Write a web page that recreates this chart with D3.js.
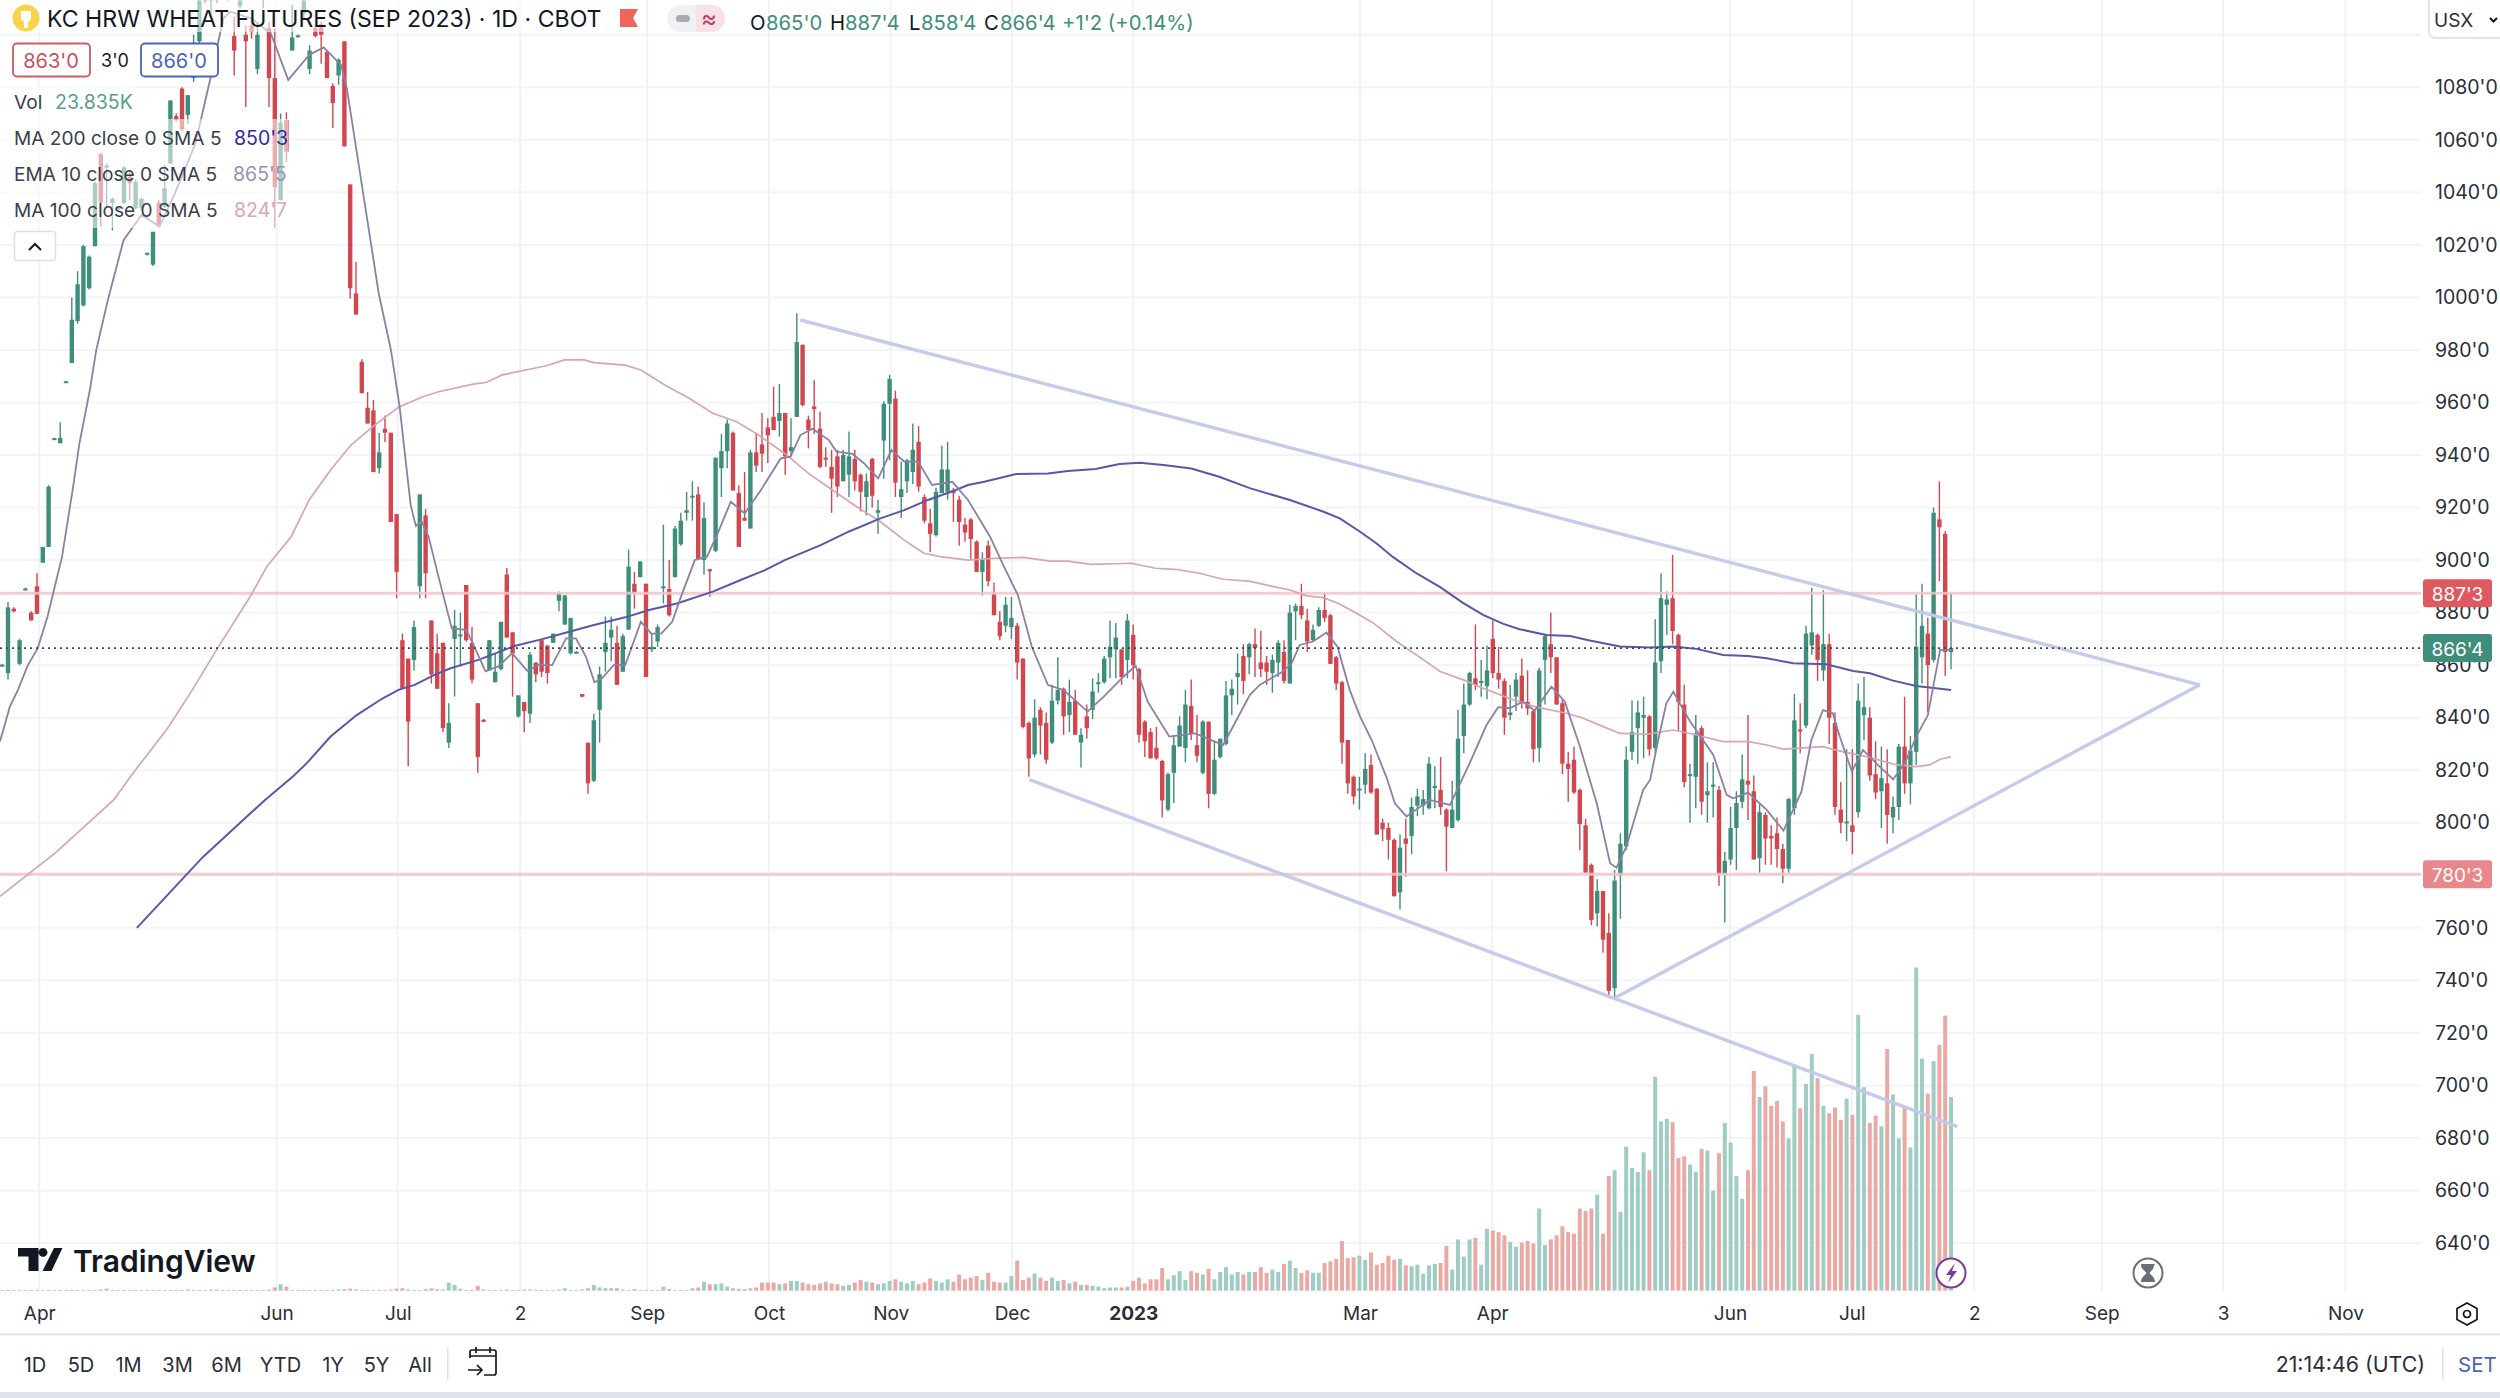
<!DOCTYPE html>
<html><head><meta charset="utf-8">
<script src="https://cdn.jsdelivr.net/npm/d3@7"></script>
<style>
html,body{margin:0;padding:0;background:#fff;overflow:hidden}
svg{display:block}
text{font-family:Inter,"Noto Sans",Roboto,sans-serif}
</style></head><body>
<svg id="c" width="2500" height="1398"></svg>
<script>
const openVals=[875,860,857,881.5,860.5,889,880,890,899,905,
946.2,944.5,968,975,991,997,1003.5,1019.5,1054.5,1050,
1036,1034,1036,1046,1034,1034,1016.5,1012.5,1036,1034.5,
1051,1069,1079.5,1069.5,1083.5,1097.5,1120,1113,1125,1118,
1125,1099.5,1111,1100,1103.5,1087,1115,1102.5,1083.5,1037,
1067.5,1094,1099.5,1108,1087,1102.5,1104,1093.5,1080.5,1084.5,
1097.5,1043,1001.5,975.5,958,957,935,950,948.5,917.5,
869.5,862.5,862,890,917,877,864.5,868.5,830.5,870,
871.3,890.5,868.5,845.5,839.2,858,853.5,858.5,894.5,872.5,
840.5,846,841.5,861,869.5,867.5,868.5,884.5,875.5,864.5,
865,849,830.5,816,843,865,870.5,868.5,857.5,873.5,
891,893.5,891,866,869,889.5,889,893.5,906,918,
924,925,900,896.5,903.5,935,941.5,948.5,925.5,916,
912,941,944,950.5,954.5,953,956,941.5,954.5,982,
953.5,958.5,950,939,935.5,939.5,930,932.5,938.5,932.5,
924,938.5,918,945.5,959.5,961.5,924,930,933.5,945,
924,914,909.5,925.5,926,926.5,923,913.5,915.5,907,
895.5,905.5,887.5,876.5,875,874.5,875,862.5,838,826,
843,838,830.5,846.5,851,841,846.5,830.5,840.5,843,
853,853.5,863,866,866,862,871.5,858.5,838.5,834.5,
828.5,823.5,805,819,829,828.5,844.5,829.5,819,838.5,
811,825,830,848.5,855.5,863.5,863,868,861,861,
857,861,865,853,880.5,882.5,877,869.5,875,881,
879,863,853.5,831.5,817.5,812.5,814.5,822,813,800,
798,793.5,773.5,794,795,806.5,806.5,805.5,813.5,812.5,
805,798,801,833,845,855,853.5,852,870,857,
854,841,848,856,846,842.5,828.5,862,868,863,
845.5,822.5,824,812.5,799,784,765.5,774,758,737,
780,791,827,836,840,840.5,828.5,861.5,883,885.5,
871.5,845,818,817.5,836,810.5,814,812.5,780.5,786,
798,808,816,812,786.5,803,795,796,790,782.5,
805.5,835.5,837,867.5,871.5,858,868,838,805,800,
799,804,841,840,818.5,812,815,802,806,829,
815,827,863,872,862,915.5,910,865];
const highVals=[880,860.5,884,882,870,889.5,880.5,895,905,928.5,
946.6,952.5,968.3,1000,1010,1020,1016,1044,1055,1051,
1038,1034.5,1050,1048,1045,1038,1017,1025,1037,1050.5,
1075,1070,1080,1077,1100,1118,1125,1130,1135,1130,
1128,1107,1115,1103.5,1105,1105,1125,1105,1102.5,1070,
1070.5,1111.5,1100,1118,1096,1104,1105,1094,1081.5,1091,
1097.5,1043,1013.5,976.5,964,961,948.5,955,948.5,917.5,
872,862.5,877,925,919.5,877,872,868.5,845.5,881,
880,890.5,874.5,845.5,839.5,869.5,864.5,876.5,897,872.5,
848.5,846,865,861,870,867.5,872,888,886.7,878,
865.3,849,830.5,841.5,859.5,878.5,878.5,875,872,904,
895.5,899.5,891,872,875.5,913.5,900,913,918,926,
930,928,922,896.7,939,948,953.5,949,928.5,933.5,
942,948,956,954,966,967,956,954,994,982,
955,968.5,956.5,943,942,942,942,949,942,933,
933,939,923,960.5,970.5,964.5,937.5,938.5,952,951,
925,919.5,927.5,943.5,945,927.5,924.5,916,916,907.5,
903,907.5,891.5,880.5,886,886,876,862.5,838.5,847,
844,842,852.5,863,851.5,854.5,850.5,836,845,855,
857,863.5,877,876,866,879.5,875.5,859,839,836,
836.5,824,819,833.5,840.5,850.5,854.5,841,839,838.5,
831,832,854,854.5,864.5,868,868.5,874,873,863.5,
864,869.5,869.5,883,883.5,891,881.5,875.5,882,887.5,
879.5,863.5,854,831.5,818,817.5,826.5,826,813,801.5,
800,794,795.5,801.5,809.5,813,812.5,825,821.5,825,
805.5,816,843,853,857.5,875.5,862,867.5,877,867,
855,852.5,857,862.5,858,843,859,872,880,863,
847,827,829,813,801.5,784.5,778.5,774,765.5,782,
796,829,846.5,846.5,848,841,877.5,895,888,902,
872,852.5,822.5,841,837,823,823,814,789,806,
812,826,841,818,807,804,799,802,792,809.5,
849,845.5,875,889.5,872,888.5,872,842,815.5,828,
828,853,855.5,844,831,829,828,810,830,848,
833,887,891,878,920,930,911,887.5];
const lowVals=[868,859.5,854.5,880,860,888.5,877,879.5,899,905,
946,944.5,967.7,975,990,996.5,1003,1019.5,1027,1034,
1025.5,1033.5,1035.5,1037,1033.5,1033,1016,1012,1027,1034,
1051,1067,1063.5,1066,1082,1093,1112,1108,1112,1114,
1113,1084.5,1110,1072.5,1098.5,1085,1110,1072.5,1026.5,1037,
1051.5,1094,1099,1106,1085,1099,1089,1083.5,1064.5,1081,
1057.5,999.5,993.5,963.5,952,933.5,933,945,914.5,885.5,
851,821.5,858,885.5,885.5,853,851,834.5,828.5,848,
859.5,869,853,819,838.3,858,853.5,858,870.5,848,
840,834.5,838,853.5,855.5,853,868.5,880.5,875.3,864,
864.7,847.8,811,815.5,830.5,857.5,861.5,852.5,857.5,873.5,
881.5,893.5,855.5,865,867,883.5,878.5,893.5,905.5,915,
915,900,894.5,886,903,924,935,926.5,905,915,
912,933.5,933.5,937,949.5,947,932.5,939.5,954.5,958.5,
942.5,948,935,935.5,918,924,930,924,926.5,918.5,
917,920,910,931,938,924,916,925.5,929,926,
914,903,909,925.5,923,914.5,905.5,907,900.5,895.5,
886.5,890,879,869.5,872.5,870,854.5,836,817.5,825,
826,822.5,830,845,833.5,834.5,833.5,821,832,839.5,
849.5,853,855,855,852.5,855,854.5,830.5,825,824.5,
824,802,804.5,807.5,829,823,831.5,823,818.5,805.5,
810.5,824.5,829.5,841,845,849,856.5,855.5,855.5,852.5,
849.5,855.5,853,853,869.5,877.5,865,869,874.5,876.5,
860.5,850.5,822.5,811,807,805,811,811,795.5,793,
786,772,767,779.5,788,802.5,803,805,805.5,803,
781.5,798,800.5,826.5,844.5,850.5,848,847,855,851,
833.5,839,842.5,843.5,841,823,823,845,857,845,
818.5,808,811,789.5,781,761,760.5,750.5,733.5,733.5,
763.5,789.5,824,822.5,824.5,825.5,826.5,857,871.5,868,
835,813.5,800,805.5,803,800,802,776,762,784,
782,805.5,801,786,781,784,784,783,777,781,
803,826.5,836,864,854,854,830,803,796,793,
788,802,831.5,816,809,798,792,796,801,811,
807,822,853,842,861,892,856,858.5];
const closeVals=[868.5,860.2,882,880.5,869.5,889.2,877,879.5,905,928,
946.4,946.5,968.1,991.5,1005,1019.5,1015.5,1043.5,1036,1050.2,
1037.5,1034.2,1049.5,1043.5,1044,1037.5,1017,1025,1027,1041.5,
1075,1067.5,1064,1077,1097,1113,1113,1125,1118,1126,
1114,1094,1113,1097.5,1101,1100,1120,1083.5,1042,1066.5,
1055.5,1099,1099.8,1113,1094,1099.5,1100,1083.5,1074,1090.5,
1057.5,1003.5,993.5,963.5,952,933.5,941,948.5,914.5,895.5,
851,838.5,874.5,925,895,856.5,851,836,838,875,
871.7,869.5,854.5,825,838.6,869.5,857.5,876.5,870.5,864.5,
848.5,842.5,864,856.5,857.5,857,872,887.5,886.5,878,
865.1,848,815,839,856.5,868.5,873.5,852.5,871,897.5,
887.5,899.5,855.5,867,874.5,890,879,912,915,919,
924.5,900.5,916,896,939,941.5,952,926.5,905,915,
941,936,940.5,947.5,949.5,956,939.5,943,983,959,
949.5,957.5,935.5,938.5,931,928,940,939.5,930,926,
930,924.5,919,959.5,969,929.5,927,938,942,928,
915,910,926,934.5,934.5,925.5,914.5,910.5,908,895.5,
900,892,879,871,883,878,861,836.5,824.5,840,
837,824,846.5,850.5,840.5,846,833.5,833.5,836,850,
853.5,862.5,867,870.5,855.5,877,860,833.5,831,824.5,
824.5,808.5,818.5,829.5,837,845,834,825.5,838.5,811,
824,832,848.5,851,857,854,868,866.5,858.5,857.5,
862,868.5,854,880,882.5,879,869,873.5,881,878,
860.5,853,830.5,815,810,813,820.5,811.5,795.5,797.5,
793.5,772,790.5,792,806,810,809,822.5,814,806,
798.5,805,832,845,857,852.5,854,858,857,854.5,
840,842,854.5,846,843.5,828,858,871,863,845,
822.5,820.5,811.5,799.5,781,763,774,755.5,736,778,
792,824,834.5,842,841,828,861,885.5,885,873,
846,815.5,818.5,834,808,812,814.5,780.5,785.5,798,
807.5,816.5,814.5,786,804,794,794,790,782.5,809,
839,835,872,872.5,862,868,840,806,800,800.5,
796.5,846.5,844,818,811.5,817,803,806,829,815,
827.5,867,875,860,918,912.5,865,866.5];
const volumeK=[.1,.1,.1,.1,.1,.1,.1,.1,.1,.1,
.1,.1,.1,.1,.1,.1,.1,.1,.15,.25,
.1,.1,.1,.1,.1,.1,.1,.1,.1,.1,
.1,.1,.1,.15,.1,.1,.1,.15,.15,.1,
.1,.1,.1,.1,.1,.1,.1,.15,.4,.8,
.5,.1,.1,.1,.1,.1,.1,.1,.1,.15,
.2,.25,.15,.1,.1,.1,.1,.1,.15,.25,
.3,.15,.1,.1,.2,.3,.2,.15,1,.7,
.25,.1,.1,.6,.15,.1,.1,.1,.15,.1,
.1,.15,.15,.1,.1,.1,.1,.15,.3,.1,
.1,.15,.3,.7,.4,.3,.3,.3,.15,.1,
.2,.1,.1,.1,.1,.5,.2,.1,.1,.1,
.3,.4,1.1,.8,.8,.9,.5,.3,.2,.2,
.3,.4,1,1,1,.8,.9,1.2,1.2,1,
.8,.7,.9,1.1,.9,.8,.6,.7,1,1.3,
1.1,1,.8,.9,1.2,1.4,1.1,.9,1.2,.8,
1,1.5,1.2,1,1.4,1.1,2,1.4,1.6,1.8,1.3,2.2,1.1,
1,1,1.8,3.7,1.3,1.6,2.1,1.6,1.2,1.6,1.2,1.3,.9,1.1,.7,.7,.6,.5,.3,.4,.4,.4,.5,
1.2,1.6,.9,1.4,1.4,2.8,1.4,1.9,2.4,1.3,2.4,2.2,2,2.7,1.4,2.3,2.9,2,2.3,2,2.3,2.3,2.9,2.2,2.6,2.3,3.3,3.7,2.8,2.2,2.5,2.2,2.2,3.4,3.6,3.9,6.1,4,4.1,4.3,3.8,4.7,3.2,3.4,4.3,3.8,3.9,3.1,3,3.2,2.1,3.1,3.3,3.4,5.5,2.6,6.3,4.2,6.3,6.5,3.2,7.6,7.4,7.2,
6.8,6,5.4,5.9,6.1,5.8,10.1,5.6,6.3,6.8,7.9,7.2,7,10.1,9.8,10.1,11.8,7,14.1,14.8,9.7,17.7,15.1,14.6,17,14.8,26.3,20.8,21.1,20.7,16.3,16.5,15.5,14.6,17.4,17.2,12.3,16.9,20.6,18.2,14.1,11.3,14.8,27,23.8,25.1,22.7,23.3,20.8,18.7,27.7,22.4,25.4,29.1,26.1,22.7,21.8,22.5,21,23.6,21.6,33.9,25,20.6,21.5,20.2,29.7,24.1,18.7,22.7,17.6,39.7,28.5,24.2,28.2,30.2,33.8,23.8];

const ma100=[[0,772],[9.6,788.6],[19.6,808.7],[22.7,818.2],[28.9,836],[33,850],[37.5,866.4],[43.3,886.7],[46,897.5],[50.2,908.9],[53.3,922.9],[57,934.3],[60.5,943.8],[64.6,951.4],[68.7,958.2],[72.9,962.2],[75.6,964.1],[81.8,967.1],[83.8,967.6],[86.6,970.5],[90,972.1],[94.2,974],[97.3,976.2],[100.7,976.2],[102.4,975.2],[107.8,974.2],[110.5,972.4],[114.7,966.6],[118.8,961.6],[122.9,955.9],[127,952.7],[130.8,947.6],[135.3,940.6],[139.4,933],[143.5,926.7],[147.7,920.3],[151.8,914.6],[155.9,907.6],[159.3,902.6],[162.1,901.3],[166.9,900],[171.7,900.7],[176.5,901],[181,899.6],[184.1,899.6],[188.2,898.4],[195.1,898.8],[199.2,896.9],[202.6,896.5],[206.8,895],[210.9,892.7],[215.6,891.9],[219,890.2],[222.4,888.6],[225.3,886.4],[228.1,885.7],[230.7,883.6],[233.9,879.8],[236.8,876],[240.8,869],[244.2,863.9],[248.3,857.6],[252.3,854.4],[255.7,851.2],[260.9,846.8],[264.9,844],[270.1,841.7],[273,839.8],[276.4,836.6],[279.3,834],[283.9,833.7],[288.5,835.3],[292.5,833.4],[297.1,830.9],[301.4,830.9],[304.6,829.6],[307.5,828],[314.3,829],[317.8,827],[321.8,825.2],[327,822],[330.4,821.4],[332.7,822],[334.5,824.2],[336.4,825.2]];
const ma200=[[23.6,760],[35,787],[45.7,808.7],[50.5,817.6],[52.9,822.7],[57,832.8],[61.5,841],[66,847.4],[68.7,850.6],[71.5,852.5],[74.9,856.3],[77.7,858.8],[82.5,862],[88.7,867.3],[93.5,869.9],[98.3,872.8],[102.4,875.3],[107.8,878.2],[111.9,881],[116.7,883.5],[122.9,888],[127.7,892.4],[131.9,896.2],[135.3,900],[141.5,905.7],[146.3,910.8],[151.8,915.9],[155.9,919],[160,922.9],[164.8,926.7],[166.9,928.6],[169.7,929.8],[175.2,932.8],[180.7,933],[184.1,933.9],[188.9,934.7],[193,936.6],[196.5,937.1],[200.6,936.2],[205.4,934.9],[210.2,931.7],[215.6,927.3],[222.4,922.9],[228.1,918.5],[231,915.9],[234.5,910.8],[237.3,906.4],[240.2,901.1],[244.2,895],[248.3,889.7],[252.3,883.6],[255.7,879.1],[259.2,875.7],[262,873.7],[266.6,871.5],[270.7,871.1],[274.1,869.4],[279.3,867.1],[284.5,866.7],[288.5,867.1],[292.5,866.2],[297.1,863.9],[301.4,863.5],[304.6,862.6],[309.2,860.7],[314.9,860.3],[319.5,857.8],[322.4,856.9],[326.4,854.1],[330.4,852.1],[336.4,850.5]];
const ema10=[[0,830.9],[1.7,844.2],[3.1,850.6],[4.8,860],[6.5,866.4],[8.2,878.5],[10.7,901.3],[12.7,929.2],[13.7,944.5],[15.5,964.8],[16.6,980],[18.6,999],[21.3,1021.8],[24.4,1031.4],[27.5,1027],[29.9,1038.3],[33.7,1058.6],[36.4,1084.6],[38.5,1106.2],[39.7,1108.8],[43.3,1106.2],[46.7,1100.5],[49.7,1082.8],[53.3,1092.3],[55.8,1095.2],[58.8,1088.5],[59.8,1079.6],[61.9,1049.8],[65.3,1001.5],[67.4,980],[68.9,958.4],[70.8,921],[71.7,913],[72.7,914.7],[73.9,908.9],[75.6,893.7],[77.9,874],[80.4,873.4],[81.8,867],[83.7,857.6],[85.9,859.5],[88.3,864.5],[90.9,857.8],[92.8,860],[95.2,860],[97.6,870.2],[99.3,870.2],[101,863.3],[102.5,853.5],[103.8,855],[105.8,860],[107.8,860],[110.5,876.5],[112.3,872],[114,872],[115.9,876.5],[117.4,886],[119.8,900],[121.9,901.3],[123.7,910],[126,922.2],[128.4,917.8],[131.2,926.7],[134.6,938.7],[136.3,939.4],[138,947.6],[140.1,950],[142.9,945.7],[144.2,941.3],[147,940.4],[149,936.8],[151.4,931.1],[153.7,941.9],[155.9,937.5],[158.3,937.5],[160.7,928.6],[164.2,929.8],[166.9,922.9],[170.7,908.9],[173.1,897.5],[175.5,886.7],[177.9,867],[180.7,852.4],[183.4,850.5],[187.5,842.3],[190.3,848],[193.7,855.6],[195.8,859.7],[197.9,846],[201.6,832.8],[206.1,834],[210.9,829.6],[215.5,848.7],[217.2,852.5],[221.2,857.6],[222.7,860.7],[224.1,867.7],[226.4,869],[228.7,872.4],[230.6,867],[232.7,850.6],[234.5,840.4],[236.5,831.5],[239.1,817],[240.5,807.4],[242.5,802.4],[246.5,808.7],[250,806.8],[253.4,822.7],[256.3,837.2],[258.3,844],[260.3,843.6],[262.6,846.1],[264.6,842.7],[267.5,851.8],[269.8,846.1],[272.4,829],[275.3,807.4],[277.6,784.6],[278.7,782.9],[280.4,790.9],[283.3,812.5],[284.5,816.3],[285.9,831.5],[287.3,845.5],[288.5,849.9],[289.6,845.5],[291.4,838.5],[295.4,825.8],[297.7,810.6],[298.8,809.3],[301.4,811.5],[304.6,804.9],[307.5,797],[310.6,811.8],[312.3,831.5],[314.3,842.9],[316,841.7],[317.2,832.8],[319.3,819.5],[321.2,827.7],[323.5,822.6],[326.4,816.5],[328.4,822.6],[330.4,832.8],[332.4,841],[334.5,865.8],[336.4,865.8]];
const trendLines=[[[138.6,991.4],[379.9,852.5]],[[178.1,816.4],[338.1,684.3]],[[279.1,733.4],[379.9,852.5]]];
const priceLevels=[887.375,780.375];
const lastPrice=866.5;
const priceTicks=[1100,1080,1060,1040,1020,1000,980,960,940,920,900,880,860,840,820,800,780,760,740,720,700,680,660,640];
const timeTickPos=[7.4,48.3,69.2,90.3,112.2,133.2,154.2,175.1,196,235.1,257.9,298.9,319.9,341,363,383.9,405];
const timeTickLabels=["Apr","Jun","Jul","2","Sep","Oct","Nov","Dec","2023","Mar","Apr","Jun","Jul","2","Sep","3","Nov"];
const rangeButtons=["1D","5D","1M","3M","6M","YTD","1Y","5Y","All"];
const legendRows=[["Vol","23.835K"],["MA 200 close 0 SMA 5","850'3"],["EMA 10 close 0 SMA 5","865'5"],["MA 100 close 0 SMA 5","824'7"]];

if(new Set([openVals.length,highVals.length,lowVals.length,closeVals.length,volumeK.length]).size!==1)
  throw new Error("len "+[openVals.length,highVals.length,lowVals.length,closeVals.length,volumeK.length]);

const RED="#d1474f",GREEN="#3f8e7b",VRED="#e9aaa6",VGREEN="#9fcdc4";
const lineShift=0.62;
const n=openVals.length;
const svg=d3.select("#c");
const x=d3.scaleLinear().domain([0,337]).range([-3.6,1951]);
const y=d3.scaleLinear().domain([640,1080]).range([1243,87.3]);
const vol=d3.scaleLinear().domain([0,23.835]).range([1290.7,1096.7]);
const AXISR=2421,PLOTB=1291;
svg.append("defs").append("clipPath").attr("id","plot").append("rect").attr("x",0).attr("y",0).attr("width",AXISR).attr("height",PLOTB);

// grid
const grid=svg.append("g");
grid.selectAll("line.h").data(priceTicks).join("line").attr("x1",0).attr("x2",AXISR).attr("y1",d=>y(d)).attr("y2",d=>y(d)).attr("stroke","#f3f4f6").attr("stroke-width",2);
grid.selectAll("line.v").data(timeTickPos).join("line").attr("y1",0).attr("y2",PLOTB).attr("x1",d=>x(d)).attr("x2",d=>x(d)).attr("stroke","#f1f2f5").attr("stroke-width",2);

const idx=d3.range(n);
const plot=svg.append("g").attr("clip-path","url(#plot)");
// volume
plot.append("g").selectAll("rect").data(idx).join("rect")
 .attr("x",i=>x(i)-2).attr("width",4).attr("y",i=>vol(volumeK[i])).attr("height",i=>vol(0)-vol(volumeK[i]))
 .attr("fill",i=>closeVals[i]>=openVals[i]?VGREEN:VRED);
// candles
const cg=plot.append("g");
cg.selectAll("line").data(idx).join("line").attr("x1",i=>x(i)).attr("x2",i=>x(i)).attr("y1",i=>y(highVals[i])).attr("y2",i=>y(lowVals[i]))
 .attr("stroke",i=>closeVals[i]>=openVals[i]?GREEN:RED).attr("stroke-width",1.4);
cg.selectAll("rect").data(idx).join("rect").attr("x",i=>x(i)-2.2).attr("width",4.4)
 .attr("y",i=>y(Math.max(openVals[i],closeVals[i]))).attr("height",i=>Math.max(2,Math.abs(y(openVals[i])-y(closeVals[i]))))
 .attr("fill",i=>closeVals[i]>=openVals[i]?GREEN:RED);
// price levels
plot.selectAll("line.lvl").data(priceLevels).join("line").attr("x1",0).attr("x2",AXISR).attr("y1",d=>y(d)).attr("y2",d=>y(d)).attr("stroke","#f0c4c9").attr("stroke-opacity",.85).attr("stroke-width",3);
// moving averages
const ln=d3.line().x(d=>x(d[0]+lineShift)).y(d=>y(d[1]));
plot.append("path").attr("d",ln(ma100)).attr("fill","none").attr("stroke","#d5a6ae").attr("stroke-width",1.7);
plot.append("path").attr("d",ln(ma200)).attr("fill","none").attr("stroke","#5a56a8").attr("stroke-width",2);
plot.append("path").attr("d",ln(ema10)).attr("fill","none").attr("stroke","#8a80a8").attr("stroke-width",1.8);
// trend lines
const tl=d3.line().x(d=>x(d[0])).y(d=>y(d[1]));
trendLines.forEach(t=>plot.append("path").attr("d",tl(t)).attr("fill","none").attr("stroke","#c2c8ea").attr("stroke-opacity",.95).attr("stroke-width",3.4));
// last price
plot.append("line").attr("x1",0).attr("x2",AXISR).attr("y1",y(lastPrice)).attr("y2",y(lastPrice)).attr("stroke","#3a4a48").attr("stroke-width",1.6).attr("stroke-dasharray","2 4");

// Fades beneath the legend
[[0,0,600,32],[0,85,135,34],[0,119,288,109]].forEach(r=>svg.append("rect").attr("x",r[0]).attr("y",r[1]).attr("width",r[2]).attr("height",r[3]).attr("fill","#fff").attr("opacity",.55));

// axes
const INK="#131722";
const yAxis=d3.axisRight(y).tickValues(priceTicks.filter(d=>d<=1080)).tickSize(0).tickPadding(0).tickFormat(d=>d+"'0");
const gy=svg.append("g").attr("transform","translate(2435,0)").call(yAxis);
gy.select(".domain").remove();
gy.selectAll("text").attr("font-size",19.5).attr("fill","#2a2e39").style("font-family","Inter");
const xAxis=d3.axisBottom(x).tickValues(timeTickPos).tickSize(0).tickPadding(0).tickFormat((d,i)=>timeTickLabels[i]);
const gx=svg.append("g").attr("transform","translate(0,1306)").call(xAxis);
gx.select(".domain").remove();
gx.selectAll("text").attr("font-size",19).attr("fill","#2a2e39").attr("font-weight",(d,i)=>timeTickLabels[i]==="2023"?700:400).style("font-family","Inter");

// separators
svg.append("rect").attr("x",0).attr("y",1333).attr("width",2500).attr("height",2.5).attr("fill","#e8e9ec");
svg.append("rect").attr("x",0).attr("y",1392).attr("width",2500).attr("height",6).attr("fill","#e0e3eb");

const T=(s,xx,yy,size,fill,anchor,w)=>svg.append("text").text(s).attr("x",xx).attr("y",yy).attr("font-size",size).attr("fill",fill).attr("text-anchor",anchor||"start").attr("dominant-baseline","central").attr("font-weight",w||400);

// right axis tags
[[887.375,"887'3","#df5a60",true],[780.375,"780'3","#e9888c",false],[lastPrice,"866'4","#3f8e7b",true]].forEach(d=>{
  const yy=y(d[0]);
  svg.append("rect").attr("x",2423).attr("y",yy-14).attr("width",69).attr("height",28).attr("rx",3).attr("fill",d[2]);
  T(d[1],2457.5,yy+1,19,"#fff","middle");
});
// USX box
svg.append("rect").attr("x",2429).attr("y",-6).attr("width",90).attr("height",44).attr("rx",6).attr("fill","#fff").attr("stroke","#e3e4e8").attr("stroke-width",2);
T("USX",2434,20,19,"#2a2e39");
svg.append("path").attr("d","M2490 18l3.5 3.5 3.5-3.5").attr("fill","none").attr("stroke","#131722").attr("stroke-width",2);

// title
svg.append("circle").attr("cx",26).attr("cy",18).attr("r",13.5).attr("fill","#f6d44c");
svg.append("path").attr("d","M21 11h10v8l-3 3v6h-4v-6l-3-3z").attr("fill","#fff");
T("KC HRW WHEAT FUTURES (SEP 2023) · 1D · CBOT",47,19,23.1,INK);
svg.append("path").attr("d","M620 9h18l-5 9 5 9h-18z").attr("fill","#f0655a");
svg.append("rect").attr("x",667).attr("y",5).attr("width",58).attr("height",27).attr("rx",13.5).attr("fill","#f0f1f4");
svg.append("path").attr("d","M696 5h15.5a13.5 13.5 0 0 1 0 27h-15.5z").attr("fill","#f8e2e8");
svg.append("rect").attr("x",676).attr("y",15).attr("width",14).attr("height",7).attr("rx",3.5).attr("fill","#a9acb5");
T("≈",709,18,24,"#c2396a","middle");
[["O",750,INK],["865'0",766,GREEN],["H",830,INK],["887'4",845,GREEN],["L",909,INK],["858'4",921,GREEN],["C",984,INK],["866'4",1000,GREEN],["+1'2 (+0.14%)",1062,GREEN]].forEach(d=>T(d[0],d[1],22,20.3,d[2]));

// buy/sell boxes
svg.append("rect").attr("x",13).attr("y",43.5).attr("width",77).attr("height",33).attr("rx",4).attr("fill","#fff").attr("stroke","#cf5a62").attr("stroke-width",1.8);
T("863'0",51,61,20,"#c8505a","middle");
T("3'0",115,60,18,INK,"middle");
svg.append("rect").attr("x",141).attr("y",43.5).attr("width",77).attr("height",33).attr("rx",4).attr("fill","#fff").attr("stroke","#4a64c0").attr("stroke-width",1.8);
T("866'0",179,61,20,"#4a64b8","middle");

// legend rows
const legendY=[102,138,174,210],legendValX=[55,234,233,234],legendCol=["#5a9d8e","#2f2ba0","#9a8fb8","#dca5b5"];
legendRows.forEach((r,i)=>{
  T(r[0],14,legendY[i],19.1,"#3a3e4a");
  T(r[1],legendValX[i],legendY[i],19.5,legendCol[i]);
});
svg.append("rect").attr("x",14.5).attr("y",231.5).attr("width",41).attr("height",29).attr("rx",3).attr("fill","#fff").attr("stroke","#dfe0e4").attr("stroke-width",1.6);
svg.append("path").attr("d","M29 250l6-6 6 6").attr("fill","none").attr("stroke","#131722").attr("stroke-width",2);

// TradingView logo
svg.append("path").attr("d","M18 1248h20.5v23h-10v-14.5h-10.5zM54 1248h8.5l-11 23h-9zM43 1248a4.4 4.4 0 1 0 .01 0z").attr("fill","#131722");
T("TradingView",73,1261,30,"#131722","start",600);

// bottom toolbar
const btnX=[35,81,128.5,177.5,226.5,280.5,333,376.5,420];
rangeButtons.forEach((s,i)=>T(s,btnX[i],1365,20,"#2a2e39","middle"));
svg.append("rect").attr("x",447).attr("y",1347).attr("width",1.5).attr("height",33).attr("fill","#e0e3eb");
svg.append("path").attr("d","M470 1358v-6a2 2 0 0 1 2-2h22a2 2 0 0 1 2 2v21a2 2 0 0 1-2 2h-10M470 1356h26M476 1347v6M490 1347v6M468 1370h14M477 1365l5 5-5 5").attr("fill","none").attr("stroke","#131722").attr("stroke-width",1.7);
T("21:14:46 (UTC)",2425,1364,21.3,"#2a2e39","end");
svg.append("rect").attr("x",2442).attr("y",1347).attr("width",1.5).attr("height",33).attr("fill","#e0e3eb");
T("SET",2458,1364,20.5,"#4a64b8");

// status icons
svg.append("circle").attr("cx",1951).attr("cy",1273).attr("r",14.5).attr("fill","#fff").attr("stroke","#7b3aa0").attr("stroke-width",2);
svg.append("path").attr("d","M1955 1263l-9 12h5l-3 8 9-12h-5z").attr("fill","#7b3aa0");
svg.append("circle").attr("cx",2148).attr("cy",1273).attr("r",14.5).attr("fill","#fff").attr("stroke","#6a6d78").attr("stroke-width",2);
svg.append("path").attr("d","M2141 1264h14l-1 1.5c0 4-4 6-4.5 7.5.5 1.5 5.5 4 5.5 9h-14c0-5 5-7.5 5.5-9-.5-1.5-5-3.500-5.500-7.500z").attr("fill","#6a6d78");
svg.append("path").attr("d","M2467 1303l10 5.5v11l-10 5.500-10-5.500v-11zM2467 1310.500a3.500 3.500 0 1 0 .01 0z").attr("fill","none").attr("stroke","#131722").attr("stroke-width",1.7);
</script></body></html>
